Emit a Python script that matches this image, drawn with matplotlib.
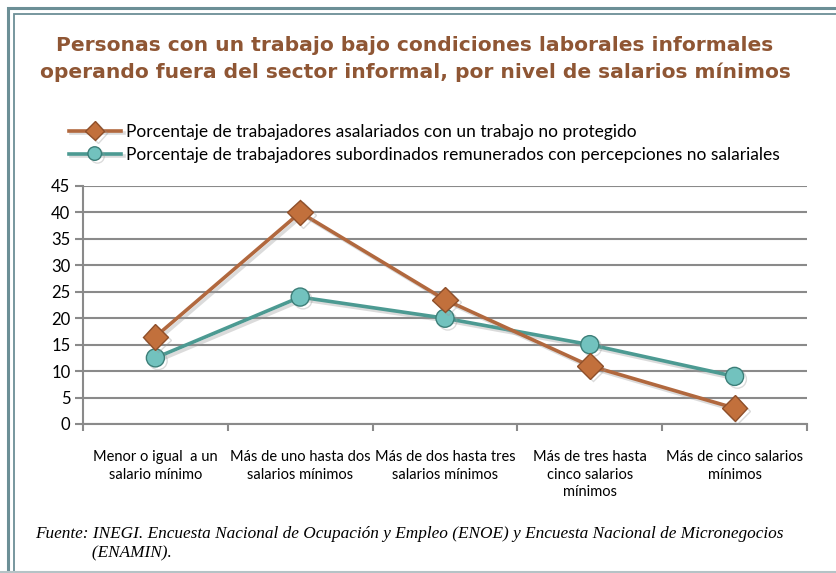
import matplotlib.pyplot as plt
import matplotlib.patheffects as pe
from matplotlib.patches import Rectangle
from matplotlib.lines import Line2D
import numpy as np

categorias = ["Menor o igual  a un\nsalario mínimo",
              "Más de uno hasta dos\nsalarios mínimos",
              "Más de dos hasta tres\nsalarios mínimos",
              "Más de tres hasta\ncinco salarios\nmínimos",
              "Más de cinco salarios\nmínimos"]
no_protegido = [16.5, 40, 23.5, 11, 3]
no_salariales = [12.5, 24, 20, 15, 9]
etiquetas = ["Porcentaje de trabajadores asalariados con un trabajo no protegido",
             "Porcentaje de trabajadores subordinados remunerados con percepciones no salariales"]

titulo = ("Personas con un trabajo bajo condiciones laborales informales\n"
          "operando fuera del sector informal, por nivel de salarios mínimos")
fuente = ("Fuente: INEGI. Encuesta Nacional de Ocupación y Empleo (ENOE) y Encuesta Nacional de Micronegocios\n"
          "             (ENAMIN).")

cafe = "#B1683E"
cafe_m = "#C2703C"
verde = "#4C9A92"
verde_m = "#72C2BE"

fig = plt.figure(figsize=(8.36, 5.73), dpi=100)
fig.patch.set_facecolor("white")

# marco doble
fig.patches.append(Rectangle((8/836, -0.1), 1.1, 1 - 8/573 + 0.1, transform=fig.transFigure,
                             fill=False, edgecolor="#6C8F96", linewidth=2.2))
fig.patches.append(Rectangle((13.5/836, -0.1), 1.1, 1 - 13.5/573 + 0.1, transform=fig.transFigure,
                             fill=False, edgecolor="#6C8F96", linewidth=1.3))
fig.add_artist(Line2D([0, 1], [1.5/573, 1.5/573], transform=fig.transFigure,
                      color="#B5C3C6", linewidth=1.5))

ax = fig.add_axes([83/836, 1 - 424/573, 724/836, 238/573])
x = np.arange(len(categorias))

sombra = [pe.SimpleLineShadow(offset=(2, -2), shadow_color="#999999", alpha=0.35), pe.Normal()]
ax.plot(x, no_protegido, color=cafe, linewidth=2.6, marker="D", markersize=13,
        markerfacecolor=cafe_m, markeredgecolor="#8E4F2A", markeredgewidth=1,
        path_effects=sombra, zorder=4, label=etiquetas[0])
ax.plot(x, no_salariales, color=verde, linewidth=2.6, marker="o", markersize=13,
        markerfacecolor=verde_m, markeredgecolor="#3C7E78", markeredgewidth=1,
        path_effects=sombra, zorder=3, label=etiquetas[1])

ax.set_xlim(-0.5, len(categorias) - 0.5)
ax.set_ylim(0, 45)
ax.set_yticks(np.arange(0, 46, 5))
ax.yaxis.grid(True, color="#8A8A8A", linewidth=1.5)
ax.set_axisbelow(True)

ax.set_xticks(np.arange(-0.5, len(categorias), 1))
ax.set_xticklabels([])
ax.set_xticks(x, minor=True)
ax.set_xticklabels(categorias, minor=True, fontsize=10.5, family="Lato", linespacing=1.3)
ax.tick_params(axis="x", which="minor", length=0, pad=19)
ax.tick_params(axis="x", which="major", length=5, color="#8A8A8A", width=1.5)
ax.tick_params(axis="y", length=6, color="#8A8A8A", width=1.5, labelsize=12, pad=3)
for lbl in ax.get_yticklabels():
    lbl.set_family("Lato")

for s in ["top", "right"]:
    ax.spines[s].set_visible(False)
for s in ["left", "bottom"]:
    ax.spines[s].set_color("#8A8A8A")
    ax.spines[s].set_linewidth(1.5)

fig.text(415/836, 1 - 59/573, titulo, ha="center", va="center", fontsize=14.6,
         fontweight="bold", color="#8F5634", family="DejaVu Sans", linespacing=1.5)

fig.legend(loc="upper left", bbox_to_anchor=(60/836, 1 - 115/573), frameon=False,
           prop={"family": "Lato", "size": 12.5}, handlelength=3.0, markerscale=0.75,
           handletextpad=0.3, labelspacing=0.4, borderpad=0)

fig.text(35/836, 1 - 544/573, fuente, ha="left", va="center", fontsize=12.4,
         style="italic", family="Liberation Serif", linespacing=1.25)

fig.savefig("out.png", dpi=100)
